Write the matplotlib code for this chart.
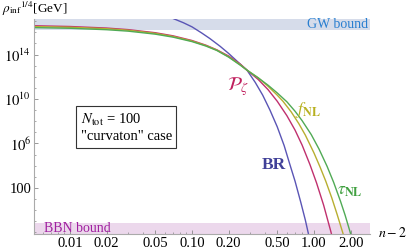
import numpy as np
import matplotlib
matplotlib.use("Agg")
import matplotlib.pyplot as plt
from matplotlib.ticker import FixedLocator, NullFormatter

plt.rcParams['font.family'] = ['Liberation Serif', 'DejaVu Serif']
plt.rcParams['mathtext.fontset'] = 'stix'

# ---- data (x = n-2, y = log10 of rho_inf^{1/4}/GeV) ----
x_Pz = [0.005, 0.01, 0.02, 0.03, 0.05, 0.07, 0.1, 0.13, 0.16, 0.2, 0.25, 0.2825,
        0.35, 0.42, 0.5, 0.6, 0.7, 0.8, 0.927, 1.05, 1.2, 1.377, 1.5]
y_Pz = [16.60, 16.53, 16.39, 16.25, 15.97, 15.69, 15.27, 14.85, 14.43, 13.87, 13.12, 12.6,
        11.75, 10.85, 9.8, 8.5, 7.2, 5.85, 4.1, 2.45, 0.45, -1.95, -3.6]

x_fNL = [0.005, 0.01, 0.02, 0.03, 0.05, 0.07, 0.1, 0.13, 0.16, 0.2, 0.25, 0.2825,
         0.35, 0.42, 0.5, 0.557, 0.65, 0.75, 0.85, 1.0, 1.12, 1.25, 1.4, 1.55, 1.73, 1.9]
y_fNL = [16.52, 16.46, 16.33, 16.19, 15.91, 15.63, 15.22, 14.81, 14.4, 13.8, 13.07, 12.6,
         11.9, 11.15, 10.35, 9.8, 8.85, 7.8, 6.75, 5.15, 3.9, 2.6, 1.1, -0.4, -2.1, -3.7]

x_tNL = [0.005, 0.01, 0.02, 0.03, 0.05, 0.07, 0.1, 0.13, 0.16, 0.2, 0.25, 0.2825,
         0.35, 0.42, 0.5, 0.6, 0.7, 0.8, 0.95, 1.1, 1.28, 1.45, 1.65, 1.8, 1.97, 2.15]
y_tNL = [16.43, 16.37, 16.24, 16.11, 15.84, 15.57, 15.17, 14.77, 14.37, 13.77, 13.03, 12.6,
         11.9, 11.25, 10.55, 9.75, 8.9, 8.05, 6.8, 5.5, 3.95, 2.5, 0.8, -0.45, -1.9, -3.4]

x_BR = [0.055, 0.07, 0.085, 0.1, 0.12, 0.14, 0.17, 0.2, 0.24, 0.2825, 0.33, 0.38,
        0.436, 0.5, 0.57, 0.635, 0.7, 0.78, 0.85, 0.893, 0.95]
y_BR = [17.65, 17.25, 16.87, 16.5, 15.95, 15.45, 14.75, 14.1, 13.3, 12.6, 11.5, 10.35,
        9.0, 7.5, 5.8, 4.1, 2.6, 0.7, -0.9, -1.95, -3.3]

gw_bound = 16.25
bbn_bound = -1.15
x_ticks = [0.01, 0.02, 0.05, 0.10, 0.20, 0.50, 1.00, 2.00]
x_ticklabels = ["0.01", "0.02", "0.05", "0.10", "0.20", "0.50", "1.00", "2.00"]
y_ticks_exp = [2, 6, 10, 14]
y_ticklabels = ["100", r"$10^{6}$", r"$10^{10}$", r"$10^{14}$"]

xlim = (0.00507, 2.88)
ylim = (10**-2.15, 10**17.25)

c_BR = '#5a55b5'
c_Pz = '#c0306e'
c_fNL = '#b8ae30'
c_tNL = '#50aa55'

fig = plt.figure(figsize=(4.09, 2.52), dpi=100)
ax = fig.add_axes([34/409, 1-234/252, (370-34)/409, (234-18.5)/252])
ax.set_xscale('log')
ax.set_yscale('log')
ax.set_xlim(*xlim)
ax.set_ylim(*ylim)

ax.axhspan(10**gw_bound, ylim[1], color='#d6dcea', zorder=0, lw=0)
ax.axhspan(ylim[0], 10**bbn_bound, color='#ecd8ec', zorder=0, lw=0)

lw = 1.0
ax.plot(x_BR, 10**np.array(y_BR), color=c_BR, lw=lw)
ax.plot(x_Pz, 10**np.array(y_Pz), color=c_Pz, lw=lw)
ax.plot(x_fNL, 10**np.array(y_fNL), color=c_fNL, lw=lw)
ax.plot(x_tNL, 10**np.array(y_tNL), color=c_tNL, lw=lw)

for s in ['top', 'right']:
    ax.spines[s].set_visible(False)
for s in ['left', 'bottom']:
    ax.spines[s].set_color('#aaaaaa')
    ax.spines[s].set_linewidth(0.8)

ax.xaxis.set_major_locator(FixedLocator(x_ticks))
ax.set_xticklabels(x_ticklabels)
minor_x = [v * m for v in [0.001, 0.01, 0.1, 1.0] for m in range(2, 10)]
ax.xaxis.set_minor_locator(FixedLocator(minor_x))
ax.xaxis.set_minor_formatter(NullFormatter())
ax.yaxis.set_major_locator(FixedLocator([10.0**e for e in y_ticks_exp]))
ax.set_yticklabels(y_ticklabels)
ax.yaxis.set_minor_locator(FixedLocator([10.0**e for e in range(-2, 18)]))
ax.yaxis.set_minor_formatter(NullFormatter())
ax.tick_params(which='both', direction='in', color='#888888', labelsize=10.5, pad=2)
ax.tick_params(which='major', length=3, width=0.6)
ax.tick_params(which='minor', length=1.5, width=0.5)

fig.text(2/409, 1-9/252, r"$\rho_{\rm inf}{}^{1/4}$[GeV]", fontsize=9.5, va='center', ha='left')
fig.text(393/409, 1-233/252, r"$n-2$", fontsize=10, va='center', ha='center')

ax.text(0.995, 10**16.72, "GW bound", transform=ax.get_yaxis_transform(), color='#2a7fd0',
        fontsize=10, ha='right', va='center')
ax.text(0.03, 10**-1.62, "BBN bound", transform=ax.get_yaxis_transform(), color='#a020a0',
        fontsize=10, ha='left', va='center')

ax.text(0.195, 10**11.1, r"$\mathcal{P}_\zeta$", color='#c0205e', fontsize=14, ha='left', va='center')
ax.text(0.70, 10**9.0, r"$f_{\mathbf{NL}}$", color='#b8b020', fontsize=12.5, ha='left', va='center')
ax.text(0.372, 10**4.1, "BR", color='#404098', fontsize=12.5, fontweight='bold', ha='left', va='center')
ax.text(1.55, 10**1.7, r"$\tau_{\mathbf{NL}}$", color='#40a040', fontsize=12.5, ha='left', va='center')

ax.text(0.0122, 10**7.45, "$N_{\\rm tot}$ = 100\n\"curvaton\" case", fontsize=10.5, ha='left', va='center',
        linespacing=1.25,
        bbox=dict(boxstyle='square,pad=0.3', fc='white', ec='#333333', lw=0.8))

fig.savefig('out.png', dpi=100)
